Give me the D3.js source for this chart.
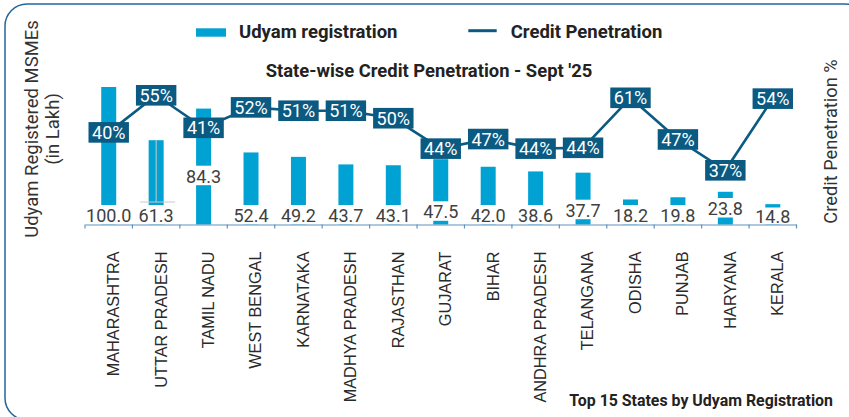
<!DOCTYPE html>
<html><head><meta charset="utf-8">
<script src="https://cdn.jsdelivr.net/npm/d3@7"></script>
<style>html,body{margin:0;padding:0;background:#fff;} svg{display:block;}</style>
</head><body><svg id="chart" width="849" height="417"></svg>
<script>
// ---- data ----
const states = ["MAHARASHTRA","UTTAR PRADESH","TAMIL NADU","WEST BENGAL","KARNATAKA","MADHYA PRADESH","RAJASTHAN","GUJARAT","BIHAR","ANDHRA PRADESH","TELANGANA","ODISHA","PUNJAB","HARYANA","KERALA"];
const udyam = [100.0, 61.3, 84.3, 52.4, 49.2, 43.7, 43.1, 47.5, 42.0, 38.6, 37.7, 18.2, 19.8, 23.8, 14.8];
const penetration = [40, 55, 41, 52, 51, 51, 50, 44, 47, 44, 44, 61, 47, 37, 54];
// level at which each line vertex is drawn in the picture (right axis, %)
const penetrationPlotted = [46.1, 55.0, 47.2, 52.1, 51.3, 51.3, 49.5, 42.2, 44.5, 42.2, 42.4, 54.4, 44.4, 37.0, 54.2];
const seriesNames = ["Udyam registration", "Credit Penetration"];
const chartTitle = "State-wise Credit Penetration - Sept '25";
const leftAxisTitle = ["Udyam Registered MSMEs", "(in Lakh)"];
const rightAxisTitle = "Credit Penetration %";
const footNote = "Top 15 States by Udyam Registration";

// ---- styles / layout ----
const BAR = "#00a2d3", LINE = "#0a5a82", TEXT = "#333333";
const svg = d3.select("#chart");
const axisY = 224.5;
const x = d3.scaleBand().domain(states).range([85, 796.5]).paddingInner(0.684).paddingOuter(0.342);
const y = d3.scaleLinear().domain([0, 100]).range([axisY, 87]);
const y2 = d3.scaleLinear().domain([37, 55]).range([170.3, 95.3]);
const cx = d => x(d) + x.bandwidth() / 2;
const rows = states.map((s, i) => ({s, u: udyam[i], p: penetration[i], pp: penetrationPlotted[i]}));

// frame
svg.append("rect").attr("x", 5).attr("y", 4).attr("width", 862).attr("height", 416)
  .attr("rx", 22).attr("fill", "none").attr("stroke", "#23669a").attr("stroke-width", 1.5);

// bars
svg.append("g").selectAll("rect").data(rows).join("rect")
  .attr("x", d => x(d.s)).attr("width", x.bandwidth())
  .attr("y", d => y(d.u)).attr("height", d => axisY - y(d.u))
  .attr("fill", BAR);

// hover marker on Uttar Pradesh bar (as in the picture)
const up = rows[1];
const mk = svg.append("g").attr("stroke", "#c9c9c9").attr("stroke-width", 1);
mk.append("line").attr("x1", cx(up.s)).attr("x2", cx(up.s)).attr("y1", y(up.u)).attr("y2", 202);
mk.append("line").attr("x1", cx(up.s) - 16).attr("x2", cx(up.s) + 19).attr("y1", 202).attr("y2", 202);

// bar value labels with white backgrounds
const labelLift = {"TAMIL NADU": 39.3, "GUJARAT": 3.7, "TELANGANA": 5.3, "HARYANA": 7, "KERALA": -2.5};
const bl = svg.append("g").selectAll("g").data(rows).join("g");
bl.each(function(d) {
  const g = d3.select(this);
  const base = 222 - (labelLift[d.s] || 0);
  const t = g.append("text").attr("x", cx(d.s)).attr("y", Math.min(base, 222.5)).attr("text-anchor", "middle")
    .attr("font-family", "Roboto").attr("font-size", 18).attr("fill", "#404040")
    .text(d3.format(".1f")(d.u));
  const w = t.node().getComputedTextLength() + 2;
  const top = base - 17, bot = Math.min(base + 2.5, axisY);
  g.insert("rect", "text").attr("x", cx(d.s) - w / 2).attr("width", w)
    .attr("y", top).attr("height", Math.max(axisY, bot) - top - (bot < axisY ? axisY - bot : 0)).attr("fill", "#fff");
});

// x axis
const xAxis = svg.append("g").attr("transform", `translate(0,${axisY})`)
  .call(d3.axisBottom(x).tickSize(0).tickPadding(0));
xAxis.select(".domain").attr("stroke", "#5f93c0").attr("stroke-width", 1.2);
xAxis.selectAll(".tick text")
  .attr("transform", "rotate(-90)").attr("text-anchor", "end")
  .attr("x", -27).attr("y", 4.5).attr("dy", "0.36em")
  .attr("font-family", "Liberation Sans, Arial, sans-serif").attr("font-size", 16.3).attr("fill", "#2a2a2a");
const bounds = states.map(s => x(s) - (x.step() - x.bandwidth()) / 2).concat([x.range()[1]]);
svg.append("g").selectAll("line").data(bounds).join("line")
  .attr("x1", d => d).attr("x2", d => d).attr("y1", axisY).attr("y2", axisY + 4)
  .attr("stroke", "#5f93c0").attr("stroke-width", 1.2);

// line
svg.append("path").datum(rows)
  .attr("d", d3.line().x(d => cx(d.s)).y(d => y2(d.pp)))
  .attr("fill", "none").attr("stroke", LINE).attr("stroke-width", 2.6).attr("stroke-linejoin", "round");

// percent labels
const pl = svg.append("g").selectAll("g").data(rows).join("g")
  .attr("transform", d => `translate(${cx(d.s)},${y2(d.pp)})`);
pl.each(function(d) {
  const g = d3.select(this);
  const t = g.append("text").attr("text-anchor", "middle").attr("dy", "0.36em")
    .attr("font-family", "Roboto").attr("font-size", 18).attr("fill", "#fff")
    .text(d.p + "%");
  const w = t.node().getComputedTextLength() + 7;
  g.insert("rect", "text").attr("x", -w / 2).attr("y", -10.3).attr("width", w).attr("height", 20.6)
    .attr("fill", LINE);
});

// legend
svg.append("rect").attr("x", 196).attr("y", 28.3).attr("width", 30).attr("height", 8.4).attr("fill", BAR);
svg.append("text").attr("x", 239).attr("y", 37.9).attr("font-family", "Roboto").attr("font-weight", 700)
  .attr("font-size", 18.5).attr("fill", "#222").text(seriesNames[0]);
svg.append("line").attr("x1", 468.3).attr("x2", 496.7).attr("y1", 30.7).attr("y2", 30.7)
  .attr("stroke", LINE).attr("stroke-width", 3);
svg.append("text").attr("x", 510.7).attr("y", 37.9).attr("font-family", "Roboto").attr("font-weight", 700)
  .attr("font-size", 18.5).attr("fill", "#222").text(seriesNames[1]);

// title
svg.append("text").attr("x", 429).attr("y", 76.7).attr("text-anchor", "middle")
  .attr("font-family", "Roboto").attr("font-weight", 700).attr("font-size", 18.4).attr("fill", "#222")
  .text(chartTitle);

// axis titles
const lt = svg.append("text").attr("transform", "translate(37.5,129) rotate(-90)").attr("text-anchor", "middle")
  .attr("font-family", "Roboto").attr("font-size", 18.5).attr("fill", TEXT);
lt.append("tspan").attr("x", 0).attr("y", 0).text(leftAxisTitle[0]);
lt.append("tspan").attr("x", 0).attr("y", 21).text(leftAxisTitle[1]);
svg.append("text").attr("transform", "translate(836.5,141.5) rotate(-90)").attr("text-anchor", "middle")
  .attr("font-family", "Roboto").attr("font-size", 18.3).attr("fill", TEXT).text(rightAxisTitle);

// footnote
svg.append("text").attr("x", 833).attr("y", 406).attr("text-anchor", "end")
  .attr("font-family", "Roboto").attr("font-weight", 700).attr("font-size", 15.9).attr("fill", "#222")
  .text(footNote);
</script></body></html>
